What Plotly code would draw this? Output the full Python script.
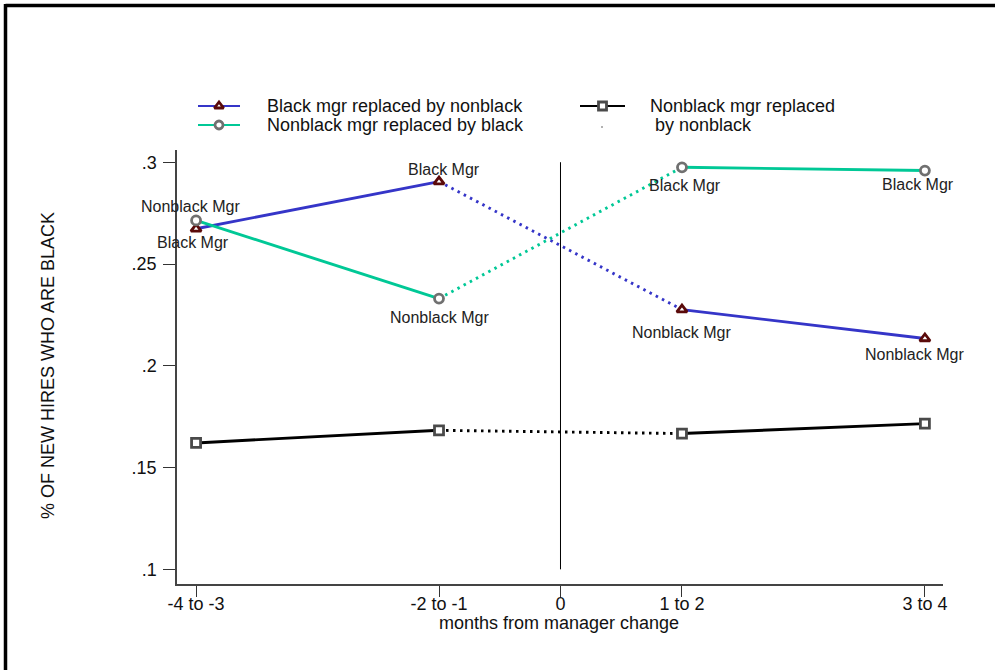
import plotly.graph_objects as go

# ---------------- data ----------------
period_pos = [-3, -1, 1, 3]
x_tick_vals = [-3, -1, 0, 1, 3]
x_tick_text = ["-4 to -3", "-2 to -1", "0", "1 to 2", "3 to 4"]
y_tick_vals = [0.1, 0.15, 0.2, 0.25, 0.3]
y_tick_text = [".1", ".15", ".2", ".25", ".3"]

black_to_nonblack = [0.2673, 0.2905, 0.2276, 0.2134]
nonblack_to_black = [0.2714, 0.2330, 0.2975, 0.2959]
nonblack_to_nonblack = [0.1621, 0.1683, 0.1667, 0.1716]

labels_b2n = ["Black Mgr", "Black Mgr", "Nonblack Mgr", "Nonblack Mgr"]
labels_n2b = ["Nonblack Mgr", "Nonblack Mgr", "Black Mgr", "Black Mgr"]

legend_names = ["Black mgr replaced by nonblack", "Nonblack mgr replaced by black",
                "Nonblack mgr replaced", " by nonblack"]

# ---------------- styles ----------------
BLUE = "#3535c8"
GREEN = "#00c896"
BLACK = "#000000"
FONT = "Liberation Sans, Arial, sans-serif"

series = [
    dict(y=black_to_nonblack, color=BLUE, sym="triangle-up", mcol="#5a0a0a", msize=9),
    dict(y=nonblack_to_black, color=GREEN, sym="circle", mcol="#707070", msize=9),
    dict(y=nonblack_to_nonblack, color=BLACK, sym="square", mcol="#4a4a4a", msize=9),
]

fig = go.Figure()

for s in series:
    # solid pre, dotted transition, solid post
    for (a, b, dash) in [(0, 2, "solid"), (1, 3, "2.5px,4.5px"), (2, 4, "solid")]:
        fig.add_trace(go.Scatter(
            x=period_pos[a:b], y=s["y"][a:b], mode="lines",
            line=dict(color=s["color"], width=2.9, dash=dash),
            showlegend=False, hoverinfo="skip"))
for s in series:
    fig.add_trace(go.Scatter(
        x=period_pos, y=s["y"], mode="markers",
        marker=dict(symbol=s["sym"], size=s["msize"], color="white",
                    line=dict(color=s["mcol"], width=2.8)),
        showlegend=False, hoverinfo="skip"))

# point labels
annots = []
b2n_shift = [(-3, -14), (5, 12), (0, -23), (-10, -16)]
n2b_shift = [(-6, 14), (0, -19), (3, -18), (-7, -14)]
for xs, ys, lab, sh in [(period_pos, black_to_nonblack, labels_b2n, b2n_shift),
                        (period_pos, nonblack_to_black, labels_n2b, n2b_shift)]:
    for xv, yv, t, (dx, dy) in zip(xs, ys, lab, sh):
        annots.append(dict(x=xv, y=yv, xref="x", yref="y", text=t, showarrow=False,
                           xshift=dx, yshift=dy, xanchor="center", yanchor="middle",
                           font=dict(family=FONT, size=16, color="#222")))

# ---------------- legend (drawn in pixel overlay axes) ----------------
leg_rows = [
    dict(x0=198, x1=240, y=106, color=BLUE, sym="triangle-up", mcol="#5a0a0a"),
    dict(x0=198, x1=240, y=125, color=GREEN, sym="circle", mcol="#707070"),
    dict(x0=580, x1=625, y=106, color=BLACK, sym="square", mcol="#4a4a4a"),
]
for r in leg_rows:
    fig.add_trace(go.Scatter(x=[r["x0"], r["x1"]], y=[r["y"], r["y"]], mode="lines",
                             line=dict(color=r["color"], width=2), xaxis="x2", yaxis="y2",
                             showlegend=False, hoverinfo="skip"))
    fig.add_trace(go.Scatter(x=[(r["x0"] + r["x1"]) / 2], y=[r["y"]], mode="markers",
                             marker=dict(symbol=r["sym"], size=8, color="white",
                                         line=dict(color=r["mcol"], width=2.8)),
                             xaxis="x2", yaxis="y2", showlegend=False, hoverinfo="skip"))
fig.add_trace(go.Scatter(x=[602], y=[127], mode="markers",
                         marker=dict(size=2, color="#999"), xaxis="x2", yaxis="y2",
                         showlegend=False, hoverinfo="skip"))
for t, x, y in zip(legend_names, [265, 265, 648, 648], [106, 125, 106, 125]):
    annots.append(dict(x=x, y=y, xref="x2", yref="y2", text=t, showarrow=False,
                       xanchor="left", yanchor="middle",
                       font=dict(family=FONT, size=18, color="#111")))

# axis titles
annots.append(dict(x=559, y=623, xref="x2", yref="y2", text="months from manager change",
                   showarrow=False, xanchor="center", yanchor="middle",
                   font=dict(family=FONT, size=18, color="#111")))
annots.append(dict(x=48, y=366, xref="x2", yref="y2", text="% OF NEW HIRES WHO ARE BLACK",
                   showarrow=False, textangle=-90, xanchor="center", yanchor="middle",
                   font=dict(family=FONT, size=18, color="#111")))

shapes = [
    dict(type="line", xref="x", yref="y", x0=0, x1=0, y0=0.1, y1=0.3,
         line=dict(color="black", width=1)),
    dict(type="line", xref="x2", yref="y2", x0=5.5, x1=1000, y0=5.5, y1=5.5,
         line=dict(color="black", width=3.5)),
    dict(type="line", xref="x2", yref="y2", x0=5.5, x1=5.5, y0=4, y1=680,
         line=dict(color="black", width=3.5)),
]

W, H = 995, 670
fig.update_layout(
    width=W, height=H, autosize=False, margin=dict(l=0, r=0, t=0, b=0, autoexpand=False),
    paper_bgcolor="white", plot_bgcolor="rgba(0,0,0,0)", showlegend=False,
    annotations=annots, shapes=shapes,
    xaxis=dict(domain=[177 / W, 943 / W], range=[-3.157, 3.149],
               tickvals=x_tick_vals, ticktext=x_tick_text, ticks="outside", ticklen=11,
               tickwidth=1, tickcolor="#333", showline=True, linecolor="#444", linewidth=1.5,
               showgrid=False, zeroline=False, anchor="y", automargin=False,
               ticklabelstandoff=-8,
               tickfont=dict(family=FONT, size=18, color="#111")),
    yaxis=dict(domain=[86 / H, 520 / H], range=[0.0928, 0.306],
               tickvals=y_tick_vals, ticktext=y_tick_text, ticks="outside", ticklen=12,
               tickwidth=1, tickcolor="#333", showline=True, linecolor="#444", linewidth=1.5,
               showgrid=False, zeroline=False, anchor="x", ticklabelstandoff=3, automargin=False,
               tickfont=dict(family=FONT, size=18, color="#111")),
    xaxis2=dict(domain=[0, 1], range=[0, W], visible=False, anchor="y2"),
    yaxis2=dict(domain=[0, 1], range=[H, 0], visible=False, anchor="x2"),
)

fig.write_html("out.html", config={"responsive": False, "displayModeBar": False},
               post_script="document.body.style.margin='0';document.body.style.overflow='hidden';")
